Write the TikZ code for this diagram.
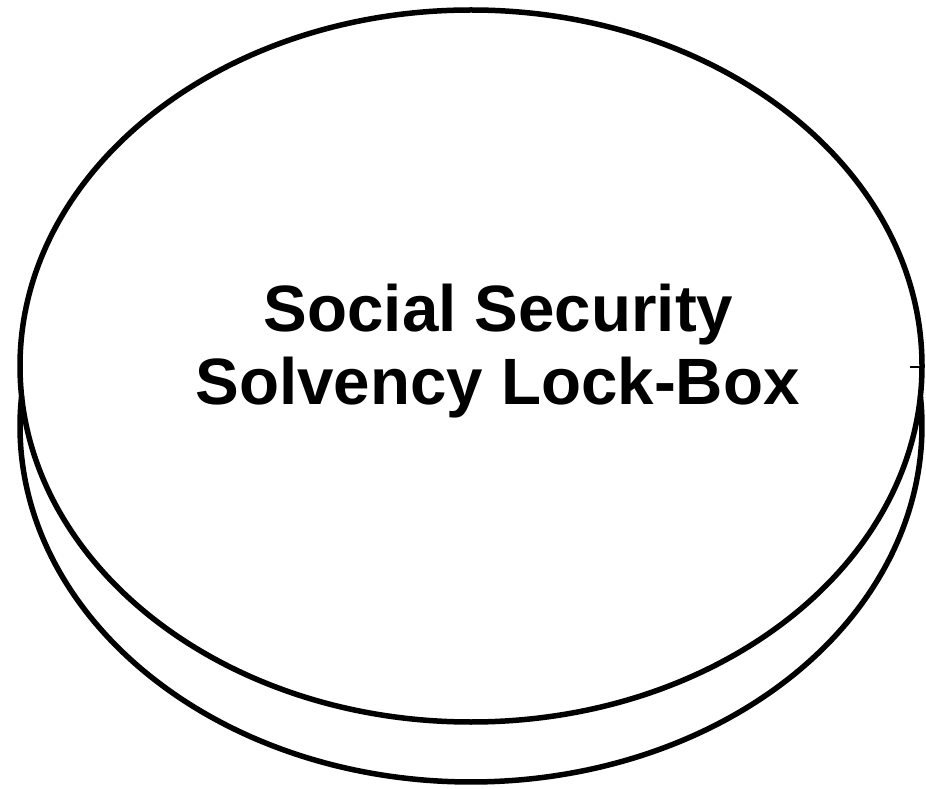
\documentclass[tikz,border=0pt]{standalone}
\usepackage{fontspec}
\setmainfont{Liberation Sans}
\usetikzlibrary{shapes.geometric}
\begin{document}
\begin{tikzpicture}[x=1pt,y=1pt,
  rim/.style={line width=5.5pt, black},
  label/.style={font=\fontsize{65.5}{73}\selectfont\bfseries, anchor=base, inner sep=0pt}]
\useasboundingbox (0,0) rectangle (926,788);
% top face
\node[rim, draw, ellipse, inner sep=0pt, outer sep=0pt,
      minimum width=902pt, minimum height=712pt] (top) at (471,422) {};
% lower rim, starting where it leaves the top face
\coordinate (bl) at ({471-451*cos(4.83)},{362+356*sin(4.83)});
\draw[rim] (bl) arc[start angle=175.17, end angle=364.83, x radius=451, y radius=356];
% small tick on right edge
\coordinate (t1) at (910,421);
\coordinate (t2) at (921,421);
\draw[line width=1.5pt] (t1) -- (t2);
% text
\node[label] (l1) at (498.5,456) {Social Security};
\node[label] (l2) at (497.5,383) {Solvency Lock-Box};
\end{tikzpicture}
\end{document}
